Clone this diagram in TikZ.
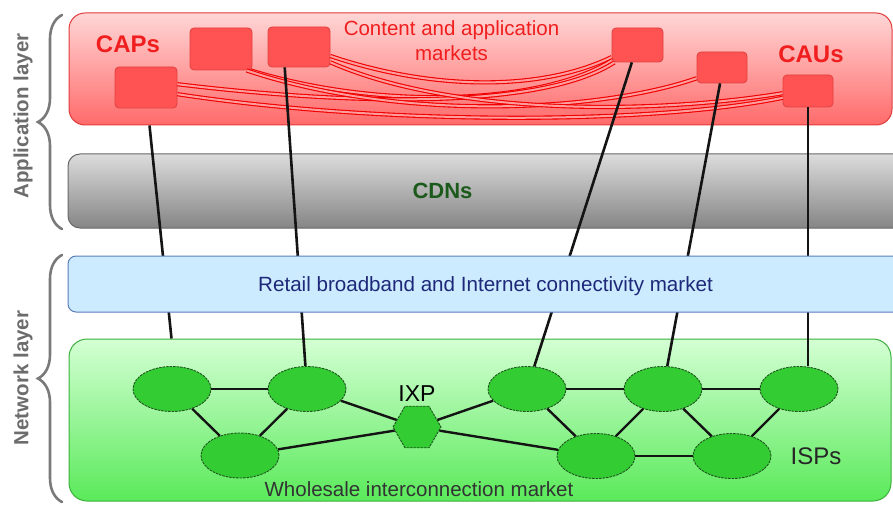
\documentclass[tikz,border=0pt]{standalone}
\usepackage{fontspec}
\setmainfont{Liberation Sans}
\usetikzlibrary{shapes.geometric,calc,decorations.pathreplacing}
\definecolor{appTop}{HTML}{FFD6D6}
\definecolor{appBot}{HTML}{FF6A6A}
\definecolor{appBorder}{HTML}{E23A3A}
\definecolor{boxFill}{HTML}{FF5252}
\definecolor{boxBorder}{HTML}{E04040}
\definecolor{txtRed}{HTML}{F01E1E}
\definecolor{linkRed}{HTML}{F00000}
\definecolor{linkCore}{HTML}{FF9C9C}
\definecolor{cdnTop}{HTML}{DCDCDC}
\definecolor{cdnBot}{HTML}{858585}
\definecolor{cdnBorder}{HTML}{686868}
\definecolor{cdnText}{HTML}{1C5A1C}
\definecolor{retFill}{HTML}{CCEBFF}
\definecolor{retBorder}{HTML}{5A7DBA}
\definecolor{retText}{HTML}{1E2878}
\definecolor{netTop}{HTML}{D4FFD4}
\definecolor{netBot}{HTML}{5AEA5A}
\definecolor{netBorder}{HTML}{3AB03A}
\definecolor{ispFill}{HTML}{33CC33}
\definecolor{ispBorder}{HTML}{1E561E}
\definecolor{braceGray}{HTML}{7A7A7A}
\definecolor{labGray}{HTML}{6C6C6C}
\definecolor{edgeDark}{HTML}{141414}
\begin{document}
\begin{tikzpicture}[x=1pt,y=-1pt,
  layerbox/.style={inner sep=0pt, line width=1pt},
  marketbox/.style={draw=boxBorder, fill=boxFill, rounded corners=4pt, line width=0.8pt,
    minimum width=#1, minimum height=35pt, inner sep=0pt},
  isp/.style={ellipse, draw=ispBorder, fill=ispFill, dash pattern=on 2.5pt off 1pt,
    line width=0.9pt, minimum width=78pt, minimum height=45pt, inner sep=0pt},
  ixp/.style={regular polygon, regular polygon sides=6, draw=ispBorder, fill=ispFill,
    dash pattern=on 2.5pt off 1pt, line width=0.9pt, minimum size=48pt, inner sep=0pt},
  redlink/.style={draw=linkRed, line width=1.1pt, double=linkCore, double distance=2pt},
  blacklink/.style={draw=edgeDark, line width=2.6pt},
  ispedge/.style={draw=edgeDark, line width=2.4pt},
  bracestyle/.style={draw=braceGray, line width=2.6pt, line cap=round,
    decorate, decoration={brace, amplitude=24pt}},
  sidelabel/.style={text=labGray, font=\bfseries\fontsize{20.5}{22}\selectfont, rotate=90}
]
\useasboundingbox (0,0) rectangle (893,505);
\clip (0,0) rectangle (893,505);

% ---- layers ----
\node[layerbox, draw=appBorder, top color=appTop, bottom color=appBot, rounded corners=16pt,
  minimum width=823pt, minimum height=112pt] (app) at (480.5,69) {};
\node[layerbox, draw=cdnBorder, top color=cdnTop, bottom color=cdnBot, rounded corners=12pt,
  minimum width=850pt, minimum height=74pt] (cdn) at (493,191) {};
\node[layerbox, draw=netBorder, top color=netTop, bottom color=netBot, rounded corners=18pt,
  minimum width=822pt, minimum height=162pt] (net) at (480,420) {};

% ---- content / application boxes ----
\node[marketbox={62pt}, minimum height=41pt] (cap1) at (146,87.5) {};
\node[marketbox={62pt}, minimum height=42pt] (cap2) at (221,49) {};
\node[marketbox={62pt}, minimum height=40pt] (cap3) at (299,47) {};
\node[marketbox={51pt}, minimum height=34pt] (cau1) at (637.5,45) {};
\node[marketbox={50pt}, minimum height=31pt] (cau2) at (722,67.5) {};
\node[marketbox={50pt}, minimum height=32pt] (cau3) at (808,91) {};

% ---- ISPs ----
\node[isp] (e1) at (172,389) {};
\node[isp] (e2) at (307,389) {};
\node[isp] (e3) at (240,455.5) {};
\node[ixp] (ixp) at (417,427) {};
\node[isp] (e4) at (527,389) {};
\node[isp] (e5) at (663,389) {};
\node[isp] (e6) at (799,389) {};
\node[isp] (e7) at (596,456) {};
\node[isp] (e8) at (732,456) {};

% ---- market links (red) ----
\draw[redlink] (cap3.-16) .. controls (430,90) and (540,92) .. (cau1.205);
\draw[redlink] (cap2.-36) .. controls (380,110) and (540,105) .. (cau1.211);
\draw[redlink] (cap1.6) .. controls (350,105) and (540,110) .. (cau1.217);
\draw[redlink] (cap2.-40) .. controls (400,122) and (600,112) .. (cau2.203);
\draw[redlink] (cap3.-26) .. controls (450,115) and (650,115) .. (cau3.185);
\draw[redlink] (cap1.-12) .. controls (380,125) and (650,125) .. (cau3.195);

% ---- ISP interconnection ----
\draw[ispedge] (e1) -- (e2);
\draw[ispedge] (e1) -- (e3);
\draw[ispedge] (e2) -- (e3);
\draw[ispedge] (e2) -- (ixp);
\draw[ispedge] (e3) -- (ixp);
\draw[ispedge] (ixp) -- (e4);
\draw[ispedge] (ixp) -- (e7);
\draw[ispedge] (e4) -- (e5);
\draw[ispedge] (e5) -- (e6);
\draw[ispedge] (e4) -- (e7);
\draw[ispedge] (e5) -- (e7);
\draw[ispedge] (e5) -- (e8);
\draw[ispedge] (e6) -- (e8);
\draw[ispedge] (e7) -- (e8);

% ---- vertical connectors (black) ----
\draw[blacklink] ($(app.south west)+(81,0)$) -- ($(net.north west)+(103,0)$);
\draw[blacklink] (cap3.-125) -- (e2);
\draw[blacklink] (cau1.-108) -- (e4);
\draw[blacklink] (cau2.-97) -- (e5);
\draw[blacklink] (cau3.south) -- (cau3.south |- e6.north);

% ---- retail layer (on top of connectors) ----
\node[layerbox, draw=retBorder, fill=retFill, rounded corners=8pt,
  minimum width=850pt, minimum height=56pt] (retail) at (493,284) {};

% ---- texts ----
\node[anchor=base, inner sep=0pt, text=txtRed, font=\bfseries\fontsize{24}{24}\selectfont] (capsl) at (128,53) {CAPs};
\node[anchor=base, inner sep=0pt, text=txtRed, font=\bfseries\fontsize{24}{24}\selectfont] (causl) at (811,63) {CAUs};
\node[anchor=north, inner sep=0pt, align=center, text=txtRed, font=\fontsize{20.5}{25}\selectfont] (cam) at (451.5,20) {Content and application\\markets};
\node[anchor=base, inner sep=0pt, text=cdnText, font=\bfseries\fontsize{22}{22}\selectfont] (cdnl) at (442.5,198) {CDNs};
\node[anchor=base, inner sep=0pt, text=retText, font=\fontsize{20.6}{20.6}\selectfont] (retl) at (485.5,291) {Retail broadband and Internet connectivity market};
\node[anchor=base, inner sep=0pt, text=black, font=\fontsize{23}{23}\selectfont] (ixpl) at (417,401) {IXP};
\node[anchor=base, inner sep=0pt, text=black!85, font=\fontsize{24}{24}\selectfont] (ispl) at (816,464) {ISPs};
\node[anchor=base, inner sep=0pt, text=black!80, font=\fontsize{20.5}{20.5}\selectfont] (wim) at (419,496) {Wholesale interconnection market};

% ---- side braces and labels ----
\draw[bracestyle] (62,229) -- (62,15) coordinate (appbraceend);
\draw[bracestyle] (62,502) -- (62,255) coordinate (netbraceend);
\node[sidelabel] (appl) at (23,116) {Application layer};
\node[sidelabel] (netl) at (23,378) {Network layer};
\end{tikzpicture}
\end{document}
